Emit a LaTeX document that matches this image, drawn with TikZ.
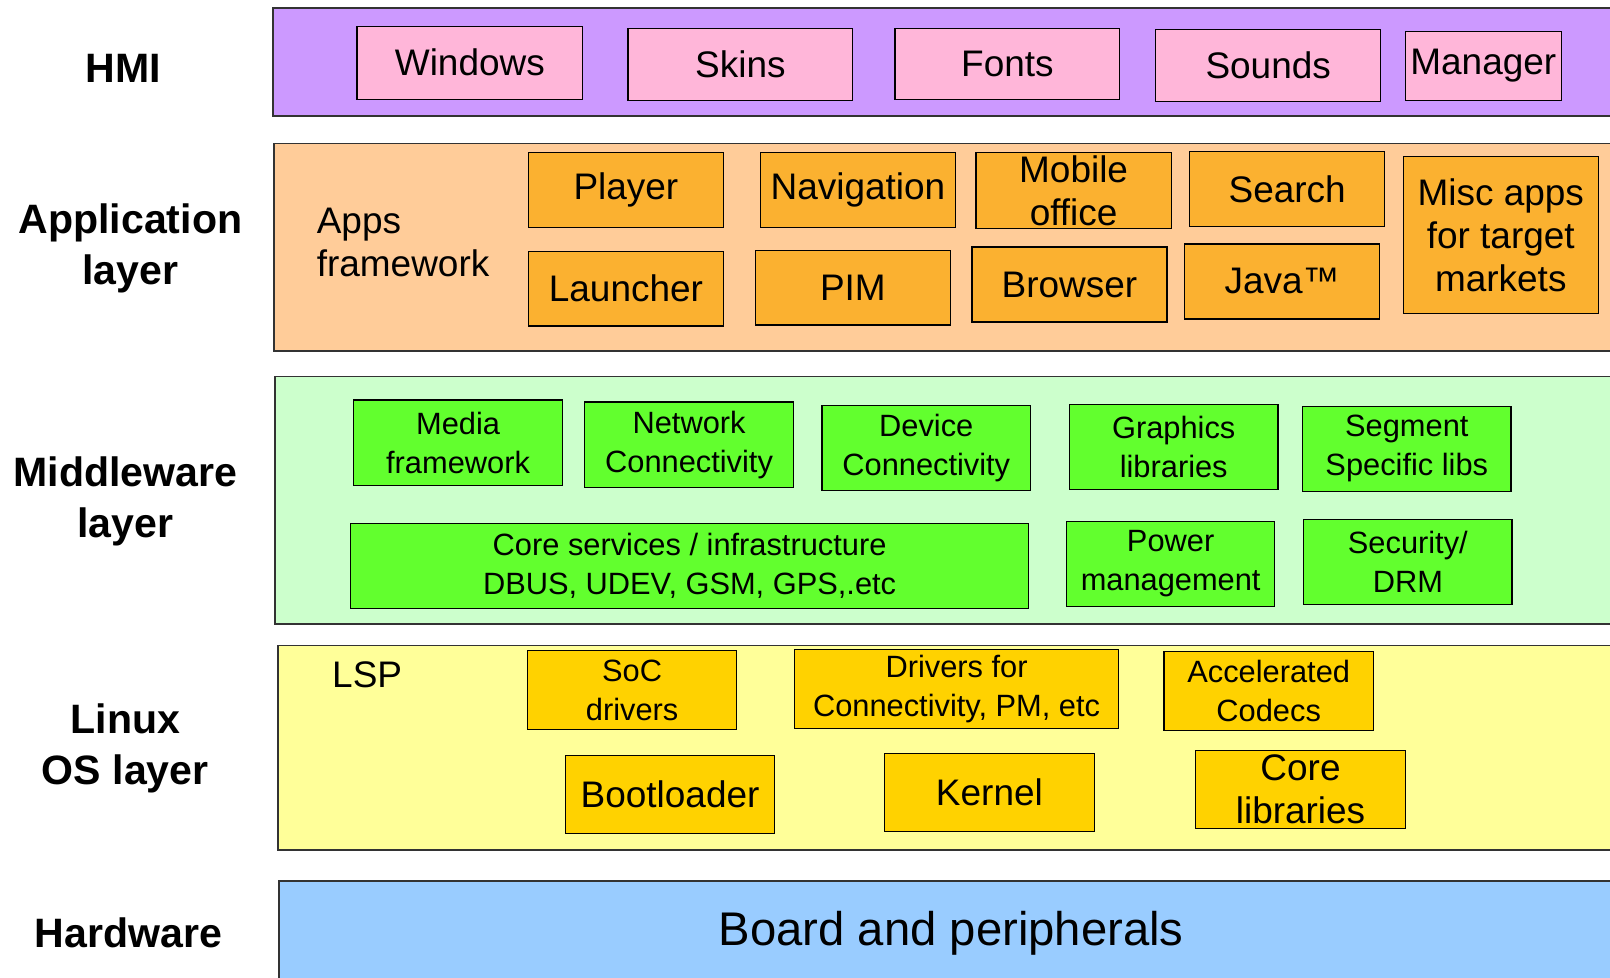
\documentclass[tikz,border=0pt]{standalone}
\usepackage{fontspec}
\setmainfont{Liberation Sans}

\definecolor{hmiband}{HTML}{CC99FF}
\definecolor{hmifill}{HTML}{FFB6D9}
\definecolor{appband}{HTML}{FFCC99}
\definecolor{appfill}{HTML}{FBB130}
\definecolor{midband}{HTML}{CCFFCC}
\definecolor{midfill}{HTML}{62FF2E}
\definecolor{osband}{HTML}{FFFF99}
\definecolor{osfill}{HTML}{FFD200}
\definecolor{hwband}{HTML}{99CCFF}

\begin{document}
\begin{tikzpicture}[x=1pt, y=-1pt,
    % Define the styles for the layer bands and the boxes
    band/.style={draw=black!80, line width=1.6pt, anchor=north west, inner sep=0pt},
    compbox/.style={draw=black, line width=1.2pt, anchor=north west, inner sep=0pt, align=center},
    bigtext/.style={font=\fontsize{36}{42}\selectfont},
    smalltext/.style={font=\fontsize{30}{38}\selectfont},
    layername/.style={font=\fontsize{40}{50}\selectfont\bfseries, align=center},
    sz/.style 2 args={minimum width=#1pt, minimum height=#2pt}
]
\useasboundingbox (0,0) rectangle (1568,952);

% Layer bands
\node[band, fill=hmiband, sz={1320}{105}] (hmi) at (265,7) {};
\node[band, fill=appband, sz={1320}{202}] (app) at (266,139) {};
\node[band, fill=midband, sz={1320}{241}] (mid) at (267,366) {};
\node[band, fill=osband, sz={1320}{199}] (os) at (270,628) {};
\node[band, fill=hwband, sz={1309}{103}, font=\fontsize{46}{55}\selectfont] (hw) at (271,857) {Board and peripherals};

% Layer names
\node[layername] (lhmi) at (120,67) {HMI};
\node[layername] (lapp) at (127,242) {Application\\layer};
\node[layername] (lmid) at (122,488) {Middleware\\layer};
\node[layername] (los) at (122,729) {Linux\\OS layer};
\node[layername] (lhw) at (125,908) {Hardware};

% HMI
\node[compbox, bigtext, fill=hmifill, sz={220}{71}] (windows) at (347,25) {Windows};
\node[compbox, bigtext, fill=hmifill, sz={219}{70}] (skins) at (611,27) {Skins};
\node[compbox, bigtext, fill=hmifill, sz={219}{69}] (fonts) at (871,27) {Fonts};
\node[compbox, bigtext, fill=hmifill, sz={219}{70}] (sounds) at (1125,28) {Sounds};
\node[compbox, bigtext, fill=hmifill, sz={152}{67}] (manager) at (1368,30) {Manager};

% Application layer
\node[bigtext, anchor=west, align=left] (appsfw) at (305,236) {Apps\\framework};
\node[compbox, bigtext, fill=appfill, sz={190}{73}] (player) at (514,148) {Player};
\node[compbox, bigtext, fill=appfill, sz={190}{73}] (navigation) at (740,148) {Navigation};
\node[compbox, bigtext, fill=appfill, sz={190}{74}] (mobile) at (950,148) {Mobile\\office};
\node[compbox, bigtext, fill=appfill, sz={190}{73}] (search) at (1158,147) {Search};
\node[compbox, bigtext, fill=appfill, sz={190}{153}] (misc) at (1366,152) {Misc apps\\for target\\markets};
\node[compbox, bigtext, fill=appfill, sz={190}{73}] (launcher) at (514,244) {Launcher};
\node[compbox, bigtext, fill=appfill, sz={190}{73}] (pim) at (735,243) {PIM};
\node[compbox, bigtext, fill=appfill, sz={190}{73}] (browser) at (946,240) {Browser};
\node[compbox, bigtext, fill=appfill, sz={190}{73}] (java) at (1153,237) {Java™};

% Middleware layer
\node[compbox, smalltext, fill=midfill, sz={203}{83}] (media) at (344,389) {Media\\framework};
\node[compbox, smalltext, fill=midfill, sz={203}{83}] (network) at (569,391) {Network\\Connectivity};
\node[compbox, smalltext, fill=midfill, sz={203}{83}] (device) at (800,394) {Device\\Connectivity};
\node[compbox, smalltext, fill=midfill, sz={203}{83}] (graphics) at (1041,393) {Graphics\\libraries};
\node[compbox, smalltext, fill=midfill, sz={203}{83}] (segment) at (1268,395) {Segment\\Specific libs};
\node[compbox, smalltext, fill=midfill, sz={660}{83}] (coresvc) at (341,509) {Core services / infrastructure\\DBUS, UDEV, GSM, GPS,.etc};
\node[compbox, smalltext, fill=midfill, sz={203}{83}] (power) at (1038,507) {Power\\management};
\node[compbox, smalltext, fill=midfill, sz={203}{83}] (security) at (1269,505) {Security/\\DRM};

% Linux OS layer
\node[bigtext, anchor=west] (lsp) at (320,657) {LSP};
\node[compbox, smalltext, fill=osfill, sz={204}{77}] (soc) at (513,633) {SoC\\drivers};
\node[compbox, smalltext, fill=osfill, sz={316}{77}] (drivers) at (773,632) {Drivers for\\Connectivity, PM, etc};
\node[compbox, smalltext, fill=osfill, sz={204}{77}] (codecs) at (1133,634) {Accelerated\\Codecs};
\node[compbox, bigtext, fill=osfill, sz={204}{76}] (boot) at (550,735) {Bootloader};
\node[compbox, bigtext, fill=osfill, sz={204}{76}] (kernel) at (861,733) {Kernel};
\node[compbox, bigtext, fill=osfill, sz={204}{76}] (corelib) at (1164,730) {Core\\libraries};

\end{tikzpicture}
\end{document}
